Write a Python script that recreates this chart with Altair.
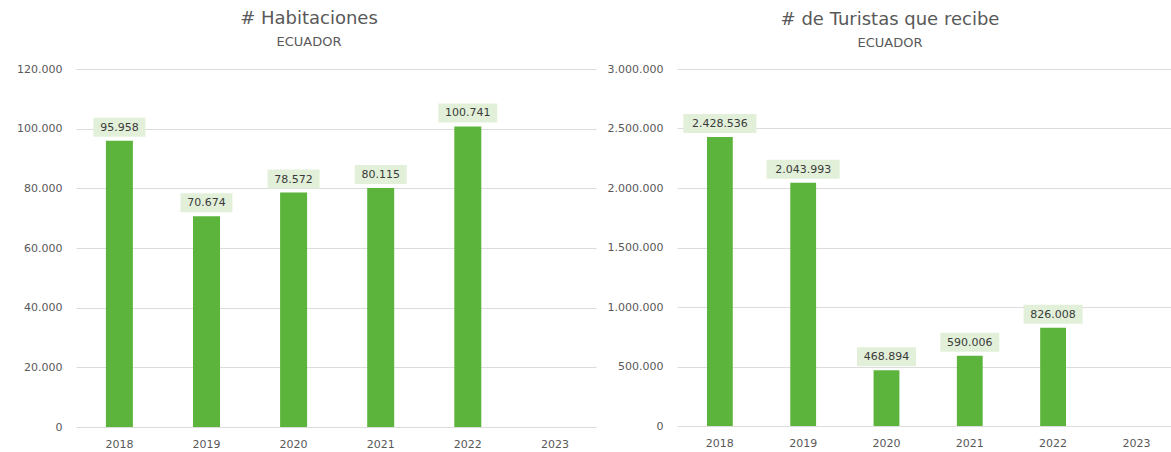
import altair as alt
import pandas as pd

years = ["2018", "2019", "2020", "2021", "2022", "2023"]
habitaciones = [95958, 70674, 78572, 80115, 100741, None]
turistas = [2428536, 2043993, 468894, 590006, 826008, None]
hab_ticks = [0, 20000, 40000, 60000, 80000, 100000, 120000]
tur_ticks = [0, 500000, 1000000, 1500000, 2000000, 2500000, 3000000]

FONT = "DejaVu Sans"
BAR = "#5cb43c"
BOX = "#e2f0d9"
TXT = "#595959"


def fmt(v):
    return f"{int(v):,}".replace(",", ".")


def panel(values, ticks, title, width, height, extent, pad_outer, align, dx, offset):
    df = pd.DataFrame({"year": years, "v": values})
    df = df[df["v"].notna()].copy()
    df["label"] = df["v"].apply(fmt)
    df["n"] = df["label"].str.len()

    xscale = alt.Scale(domain=years, paddingInner=0.69, paddingOuter=pad_outer, align=align)
    yscale = alt.Scale(domain=[ticks[0], ticks[-1]], nice=False)
    x = alt.X("year:N", scale=xscale, sort=years,
              axis=alt.Axis(title=None, labelAngle=0, domain=False, ticks=False, tickSize=0,
                            labelPadding=11, labelFont=FONT, labelFontSize=11, labelColor=TXT))
    y = alt.Y("v:Q", scale=yscale,
              axis=alt.Axis(title=None, values=ticks, format=",d", domain=False, ticks=False,
                            tickSize=0, labelPadding=14, labelFont=FONT, labelFontSize=11,
                            labelColor=TXT, gridColor="#dcdcdc", gridWidth=1,
                            minExtent=extent, maxExtent=extent))
    base = alt.Chart(df)
    bars = base.mark_bar(color=BAR, width={"band": 1}).encode(x=x, y=y)
    layers = [bars]
    for n in sorted(df["n"].unique()):
        w = 7 * int(n) + 10
        box = base.transform_filter(f"datum.n == {int(n)}").mark_bar(
            color=BOX, width=w, yOffset=-4, y2Offset=-23
        ).encode(x=alt.X("year:N", scale=xscale, sort=years),
                 y=alt.Y("v:Q", scale=yscale), y2="v:Q")
        layers.append(box)
    text = base.mark_text(dy=-13, font=FONT, fontSize=11, color="#3a3a3a", baseline="middle").encode(
        x=alt.X("year:N", scale=xscale, sort=years),
        y=alt.Y("v:Q", scale=yscale),
        text="label:N")
    layers.append(text)
    return alt.layer(*layers).properties(
        width=width, height=height,
        title=alt.TitleParams(text=title, subtitle="ECUADOR", font=FONT, fontSize=18,
                              fontWeight="normal", color=TXT, subtitleFont=FONT,
                              subtitleFontSize=13, subtitleColor=TXT, subtitlePadding=8,
                              anchor="middle", frame="group", dx=dx, offset=offset),
    )


left = panel(habitaciones, hab_ticks, "# Habitaciones", 520, 358, 76, 0.33, 0.52, -27, 14)
right = panel(turistas, tur_ticks, "# de Turistas que recibe", 494, 357, 75, 0.31, 0.58, -34, 13)

chart = alt.hconcat(left, right, spacing=6).properties(
    padding={"left": 0, "top": 10, "right": 0, "bottom": 0}
).configure(
    locale={"number": {"decimal": ",", "thousands": ".", "grouping": [3], "currency": ["", "€"]}}
).configure_view(stroke=None)

chart.save("out.html", embed_options={"renderer": "svg", "actions": False})
